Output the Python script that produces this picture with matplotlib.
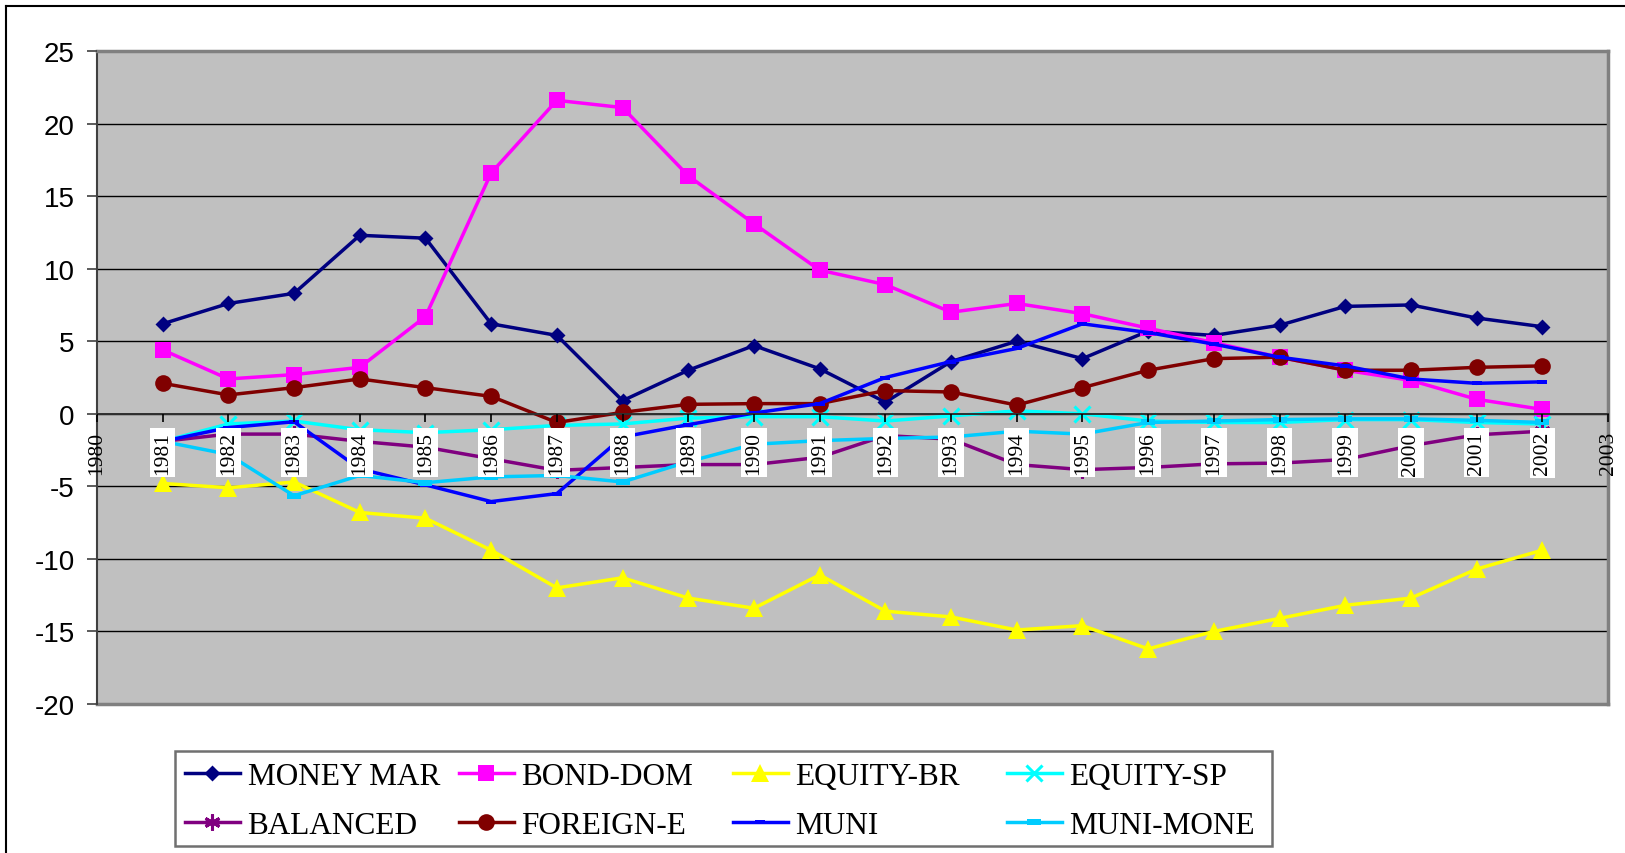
import matplotlib
matplotlib.use('Agg')
import matplotlib.pyplot as plt
from matplotlib.lines import Line2D
from matplotlib.path import Path
from matplotlib.patches import Rectangle

plt.rcParams['axes.unicode_minus'] = False

# ---------------- data ----------------
years = list(range(1981, 2003))
tick_years = list(range(1980, 2004))
y_ticks = [-20, -15, -10, -5, 0, 5, 10, 15, 20, 25]

money_mar = [6.2, 7.6, 8.3, 12.3, 12.1, 6.2, 5.4, 0.9, 3.0, 4.7, 3.1, 0.8,
             3.6, 5.0, 3.8, 5.7, 5.4, 6.1, 7.4, 7.5, 6.6, 6.0]
bond_dom = [4.4, 2.4, 2.7, 3.2, 6.7, 16.6, 21.6, 21.1, 16.4, 13.1, 9.9, 8.9,
            7.0, 7.6, 6.9, 5.9, 4.9, 3.9, 3.0, 2.3, 1.0, 0.3]
equity_br = [-4.8, -5.1, -4.7, -6.8, -7.2, -9.4, -12.0, -11.3, -12.7, -13.4, -11.1, -13.6,
             -14.0, -14.9, -14.6, -16.2, -15.0, -14.1, -13.2, -12.7, -10.7, -9.4]
equity_sp = [-1.9, -0.7, -0.5, -1.1, -1.3, -1.1, -0.8, -0.7, -0.3, -0.2, -0.2, -0.5,
             -0.15, 0.2, 0.0, -0.5, -0.6, -0.6, -0.4, -0.4, -0.6, -0.7]
balanced = [-1.9, -1.4, -1.4, -1.9, -2.3, -3.1, -3.9, -3.7, -3.5, -3.5, -3.0, -1.5,
            -1.75, -3.5, -3.85, -3.7, -3.45, -3.4, -3.15, -2.2, -1.45, -1.2]
foreign_e = [2.1, 1.3, 1.8, 2.4, 1.8, 1.2, -0.6, 0.1, 0.65, 0.7, 0.7, 1.6,
             1.5, 0.6, 1.8, 3.0, 3.8, 3.9, 3.0, 3.0, 3.2, 3.3]
muni = [-1.9, -0.95, -0.55, -3.8, -4.9, -6.05, -5.5, -1.6, -0.75, 0.05, 0.7, 2.5,
        3.6, 4.5, 6.2, 5.6, 4.8, 3.9, 3.3, 2.4, 2.1, 2.2]
muni_mone = [-1.9, -2.8, -5.65, -4.25, -4.75, -4.35, -4.25, -4.7, -3.3, -2.1, -1.85, -1.7,
             -1.6, -1.2, -1.4, -0.6, -0.5, -0.4, -0.35, -0.35, -0.45, -0.6]

labels = ['MONEY MAR', 'BOND-DOM', 'EQUITY-BR', 'EQUITY-SP',
          'BALANCED', 'FOREIGN-E', 'MUNI', 'MUNI-MONE']

# ---------------- styles ----------------
diamond = Path([(0, 1), (1, 0), (0, -1), (-1, 0), (0, 1)],
               [Path.MOVETO, Path.LINETO, Path.LINETO, Path.LINETO, Path.CLOSEPOLY])
dash = Path([(-1, -0.5), (1, -0.5), (1, 0.5), (-1, 0.5), (-1, -0.5)],
            [Path.MOVETO, Path.LINETO, Path.LINETO, Path.LINETO, Path.CLOSEPOLY])
dash2 = Path([(-1, -0.45), (1, -0.45), (1, 0.45), (-1, 0.45), (-1, -0.45)],
             [Path.MOVETO, Path.LINETO, Path.LINETO, Path.LINETO, Path.CLOSEPOLY])

styles = [
    dict(color='#000080', marker=diamond, ms=11.5, mew=0),
    dict(color='#FF00FF', marker='s', ms=11, mew=0),
    dict(color='#FFFF00', marker='^', ms=12.5, mew=0),
    dict(color='#00FFFF', marker='x', ms=11, mew=2.2),
    dict(color='#800080', marker=(6, 2, 0), ms=11.5, mew=2.2),
    dict(color='#800000', marker='o', ms=12, mew=0),
    dict(color='#0000FF', marker=dash, ms=7, mew=0),
    dict(color='#00CCFF', marker=dash2, ms=10, mew=0),
]
series = [money_mar, bond_dom, equity_br, equity_sp, balanced, foreign_e, muni, muni_mone]

W, H = 1625, 854
fig = plt.figure(figsize=(W / 100, H / 100), dpi=100)
fig.patch.set_facecolor('white')

# outer chart border (top and left visible)
fig.add_artist(Line2D([6 / W, 6 / W], [-0.05, 1 - 6.5 / H], transform=fig.transFigure,
                      color='black', lw=1.5))
fig.add_artist(Line2D([6 / W, 1.05], [1 - 6.5 / H, 1 - 6.5 / H], transform=fig.transFigure,
                      color='black', lw=1.5))

ax = fig.add_axes([97 / W, 1 - 705 / H, (1608 - 97) / W, (705 - 52) / H])
ax.set_facecolor('#C0C0C0')
ax.set_xlim(1980, 2003)
ax.set_ylim(-20, 25)

handles = []
for vals, st, lab in zip(series, styles, labels):
    ln, = ax.plot(years, vals, color=st['color'], lw=2.5, marker=st['marker'],
                  markersize=st['ms'], markeredgewidth=st['mew'],
                  markerfacecolor=st['color'], markeredgecolor=st['color'],
                  label=lab, zorder=2, clip_on=False)
    handles.append(ln)

# gridlines below lines
ax.set_yticks(y_ticks)
for yv in ax.get_yticks():
    if -20 < yv < 25:
        ax.axhline(yv, color='black', lw=1.0, zorder=1)
ax.axhline(-20, color='#808080', lw=2.5, zorder=1, clip_on=False)

ax.set_axisbelow(False)

# spines
ax.spines['left'].set_color('#404040')
ax.spines['left'].set_linewidth(1.5)
ax.spines['top'].set_color('#808080')
ax.spines['top'].set_linewidth(2.5)
ax.spines['right'].set_color('#808080')
ax.spines['right'].set_linewidth(2.5)
ax.spines['bottom'].set_position(('data', 0))
ax.spines['bottom'].set_color('#303030')
ax.spines['bottom'].set_linewidth(1.4)

ax.tick_params(axis='y', direction='out', length=7, width=1.2, color='#404040',
               pad=9, labelsize=20)
for lbl in ax.get_yticklabels():
    lbl.set_fontfamily('Liberation Sans')

ax.set_xticks(tick_years)
ax.set_xticklabels([str(y) for y in tick_years], rotation=90, fontsize=15.5,
                   fontfamily='Liberation Serif')
ax.tick_params(axis='x', direction='out', length=5.5, width=1.2, color='black', pad=7)
for lbl, yr in zip(ax.get_xticklabels(), tick_years):
    if yr in years:
        lbl.set_bbox(dict(boxstyle='square,pad=0.15', facecolor='white', edgecolor='none'))

# ---------------- legend (four equal columns, framed) ----------------
fig.add_artist(Rectangle((175 / W, 1 - 847 / H), (1272 - 175) / W, (847 - 752) / H,
                         transform=fig.transFigure, facecolor='white',
                         edgecolor='#707070', lw=1.8, zorder=3))
col_x = [185, 459, 733, 1007]
for i, cx in enumerate(col_x):
    hs = [handles[i], handles[i + 4]]
    leg = fig.legend(handles=hs, labels=[h.get_label() for h in hs],
                     loc='center left', bbox_to_anchor=(cx / W, 1 - 802 / H),
                     frameon=False, ncol=1, numpoints=1, handlelength=1.75,
                     handletextpad=0.25, borderpad=0, borderaxespad=0,
                     labelspacing=0.66,
                     prop={'family': 'Liberation Serif', 'size': 22.5})
    leg.set_zorder(4)

fig.savefig('out.png', dpi=100)
